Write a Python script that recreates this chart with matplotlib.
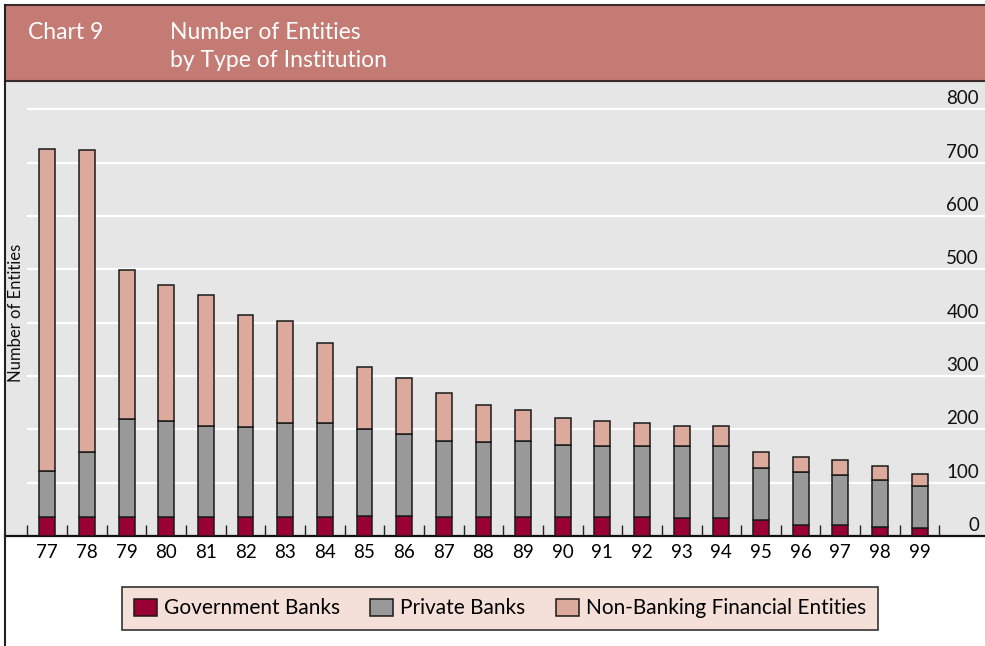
import matplotlib
matplotlib.use("Agg")
import matplotlib.pyplot as plt
from matplotlib.patches import Rectangle
from matplotlib.lines import Line2D
import numpy as np

years = ["77", "78", "79", "80", "81", "82", "83", "84", "85", "86", "87", "88",
         "89", "90", "91", "92", "93", "94", "95", "96", "97", "98", "99"]
government = [35, 35, 35, 35, 35, 36, 36, 36, 37, 37, 36, 36, 36, 36, 35, 36, 34, 33, 30, 20, 20, 16, 15]
private = [86, 123, 185, 180, 172, 169, 175, 175, 163, 155, 143, 140, 142, 135, 133, 132, 134, 136, 97, 100, 95, 89, 79]
nonbanking = [605, 565, 278, 256, 244, 210, 193, 151, 116, 105, 90, 70, 59, 51, 47, 43, 39, 37, 31, 28, 27, 26, 23]
y_ticks = [0, 100, 200, 300, 400, 500, 600, 700, 800]
series_names = ["Government Banks", "Private Banks", "Non-Banking Financial Entities"]

FONT = "Lato"
plt.rcParams['font.family'] = [FONT, 'DejaVu Sans']

W, H = 985, 646
fig = plt.figure(figsize=(W / 100, H / 100), dpi=100)
fig.patch.set_facecolor("white")

def fx(px):
    return px / W

def fy(py):
    return 1 - py / H

# axes spanning plot area
ax_l, ax_r, ax_t, ax_b = 5, 985, 82, 536
ax = fig.add_axes([fx(ax_l), fy(ax_b), fx(ax_r - ax_l), (ax_b - ax_t) / H])
ax.set_facecolor("#E6E6E6")

px_per_unit_x = 39.65
x0_px = 47.3
xmin = (ax_l - x0_px) / px_per_unit_x
xmax = (ax_r - x0_px) / px_per_unit_x
ax.set_xlim(xmin, xmax)
px_per_unit_y = 0.5334
ymax = (ax_b - ax_t) / px_per_unit_y
ax.set_ylim(0, ymax)

x = np.arange(len(years))
gov = np.array(government)
pri = np.array(private)
nbf = np.array(nonbanking)

# gridlines
ax.hlines([v for v in y_ticks if v > 0], -0.5, xmax, colors="white", lw=1.6, zorder=0.5)

bw = 0.40
ekw = dict(edgecolor="#1a1a1a", linewidth=1.1, zorder=3)
b1 = ax.bar(x, gov, bw, color="#990033", label=series_names[0], **ekw)
b2 = ax.bar(x, pri, bw, bottom=gov, color="#999999", label=series_names[1], **ekw)
b3 = ax.bar(x, nbf, bw, bottom=gov + pri, color="#DBAA9C", label=series_names[2], **ekw)

for s in ["top", "right", "left"]:
    ax.spines[s].set_visible(False)
ax.spines["bottom"].set_linewidth(1.6)
ax.spines["bottom"].set_color("#111111")

ax.set_xticks(x)
ax.set_xticklabels(years, fontsize=13.5)
ax.tick_params(axis="x", which="major", length=0, pad=6)
ax.set_xticks(np.arange(-0.5, len(years), 1.0), minor=True)
ax.tick_params(axis="x", which="minor", direction="in", length=8, width=1.0, color="#222222")
ax.set_yticks([])

# y labels on right, above gridlines
for v in y_ticks:
    ax.text((979 - ax_l) / (ax_r - ax_l), v + 2 / px_per_unit_y, str(v),
            transform=ax.get_yaxis_transform(), ha="right", va="bottom",
            fontsize=13.5, color="#111111")

# y-axis title
fig.text(fx(16), fy(313), "Number of Entities", rotation=90, ha="center", va="center",
         fontsize=12, color="#111111")

# header
fig.patches.append(Rectangle((fx(5), fy(80)), fx(980), 75 / H, transform=fig.transFigure,
                             facecolor="#C47B74", edgecolor="none", zorder=0))
fig.lines.append(Line2D([fx(5), 1], [fy(5), fy(5)], color="#3b2a2a", lw=1.5, transform=fig.transFigure))
fig.lines.append(Line2D([fx(5), 1], [fy(81), fy(81)], color="#3b2a2a", lw=1.5, transform=fig.transFigure))
fig.lines.append(Line2D([fx(5), fx(5)], [fy(5), 0], color="#222222", lw=1.5, transform=fig.transFigure))

fig.text(fx(28), fy(39), "Chart 9", color="white", fontsize=16.5, ha="left", va="baseline")
fig.text(fx(170), fy(39), "Number of Entities", color="white", fontsize=16.5, ha="left", va="baseline")
fig.text(fx(170), fy(67), "by Type of Institution", color="white", fontsize=16.5, ha="left", va="baseline")

# legend
leg = fig.legend(handles=[b1, b2, b3], labels=series_names, loc="center",
                 bbox_to_anchor=(fx(500), fy(608.5)), ncol=3, fontsize=15,
                 frameon=True, fancybox=False, facecolor="#F5DFD9", edgecolor="#333333",
                 handlelength=1.1, handleheight=0.9, handletextpad=0.35,
                 columnspacing=1.45, borderpad=0.55, borderaxespad=0)
leg.get_frame().set_linewidth(1.2)
leg.get_frame().set_alpha(1)

fig.savefig("out.png", dpi=100, facecolor="white")
